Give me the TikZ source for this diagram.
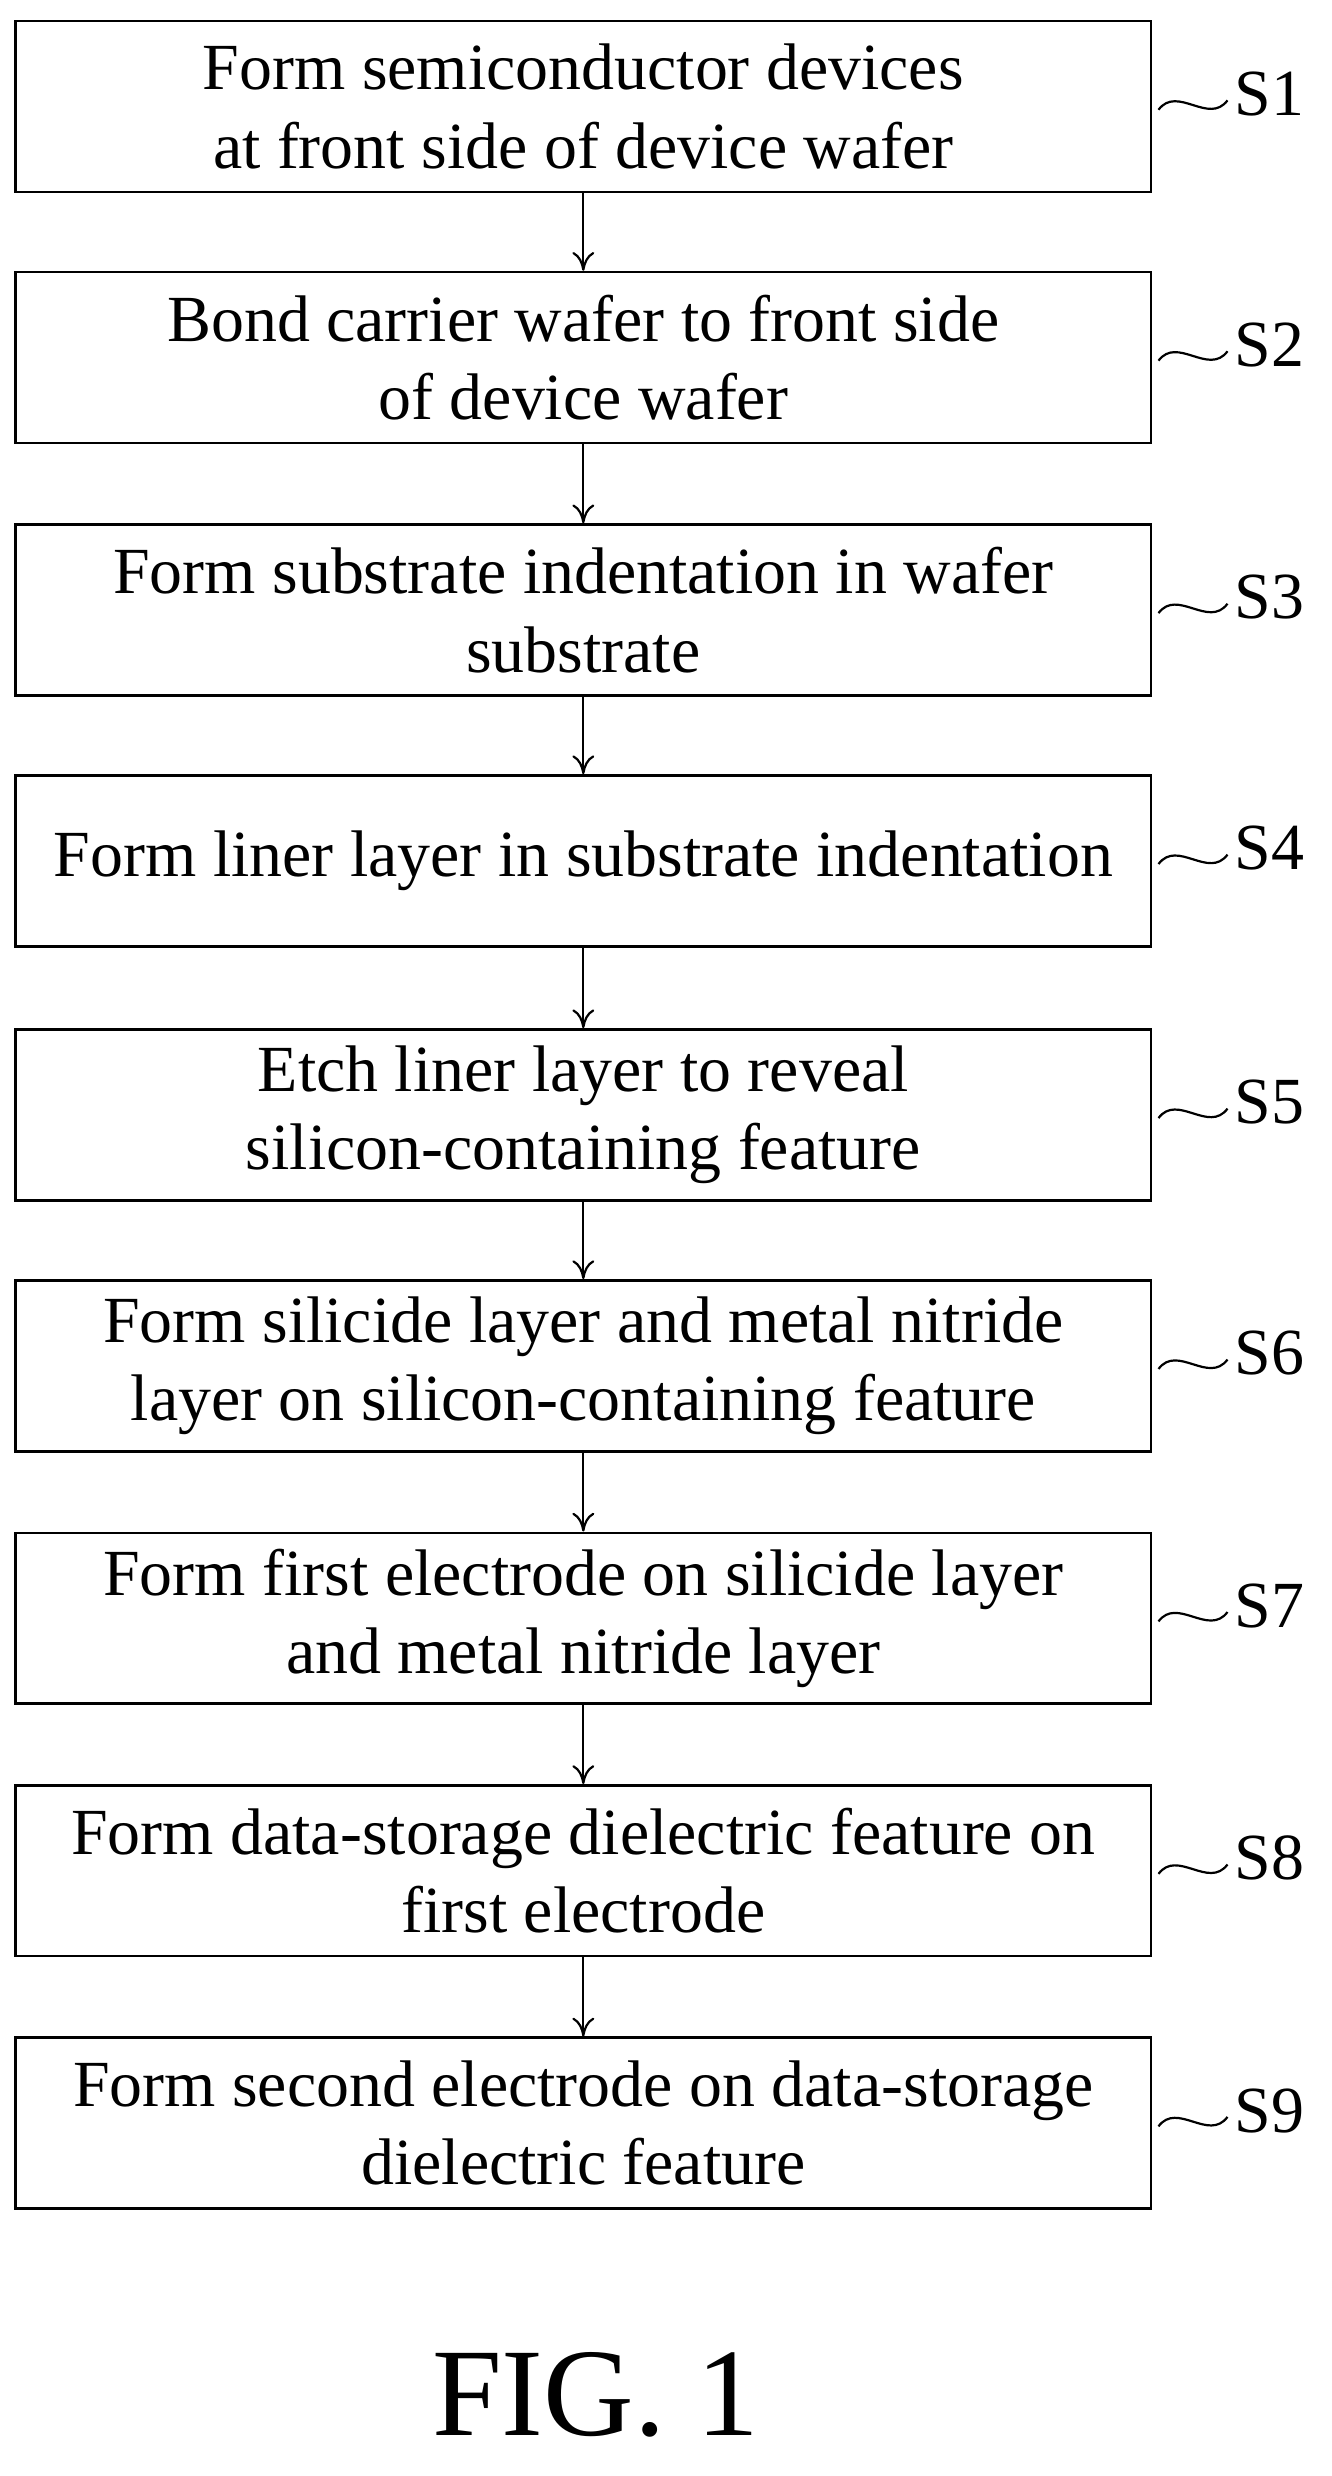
\documentclass[tikz,border=0pt]{standalone}
\usepackage{fontspec}
\setmainfont{Liberation Serif}
\usetikzlibrary{positioning,arrows.meta}
\tikzset{
  stepbox/.style={draw, line width=0.8pt, minimum width=362pt, minimum height=54.5pt,
    inner sep=2pt, align=center, font=\fontsize{21}{25}\selectfont},
  steplabel/.style={font=\fontsize{21}{24}\selectfont, inner sep=1pt},
  flow/.style={-{To[length=6pt,width=7pt]}, line width=0.7pt}
}
\begin{document}
\begin{tikzpicture}[x=0.5pt,y=0.5pt]
\useasboundingbox (0,0) rectangle (849,-1579);
\node[stepbox] (s1) at (372,-68) {Form semiconductor devices\\at front side of device wafer};
\node[stepbox] (s2) at (372,-228) {Bond carrier wafer to front side\\of device wafer};
\node[stepbox] (s3) at (372,-389) {Form substrate indentation in wafer\\substrate};
\node[stepbox] (s4) at (372,-549) {Form liner layer in substrate indentation};
\node[stepbox] (s5) at (372,-711) {Etch liner layer to reveal\\silicon-containing feature};
\node[stepbox] (s6) at (372,-871) {Form silicide layer and metal nitride\\layer on silicon-containing feature};
\node[stepbox] (s7) at (372,-1032) {Form first electrode on silicide layer\\and metal nitride layer};
\node[stepbox] (s8) at (372,-1193) {Form data-storage dielectric feature on\\first electrode};
\node[stepbox] (s9) at (372,-1354) {Form second electrode on data-storage\\dielectric feature};
% labels and squiggles
\foreach \i in {1,...,9} {
  \node[steplabel, anchor=west] (l\i) at ([xshift=25pt,yshift=4pt]s\i.east) {S\i};
  \coordinate (q\i) at ([xshift=2pt,yshift=-1pt]s\i.east);
  \draw[line width=0.7pt] (q\i) .. controls +(6pt,8pt) and +(-6pt,-8pt) .. ([xshift=-1pt,yshift=-2pt]l\i.west);
}
% arrows
\foreach \a/\b in {1/2,2/3,3/4,4/5,5/6,6/7,7/8,8/9}
  \draw[flow] (s\a.south) -- (s\b.north);
\node[font=\fontsize{40}{44}\selectfont] (fig) at (380,-1527) {FIG. 1};
\end{tikzpicture}
\end{document}
